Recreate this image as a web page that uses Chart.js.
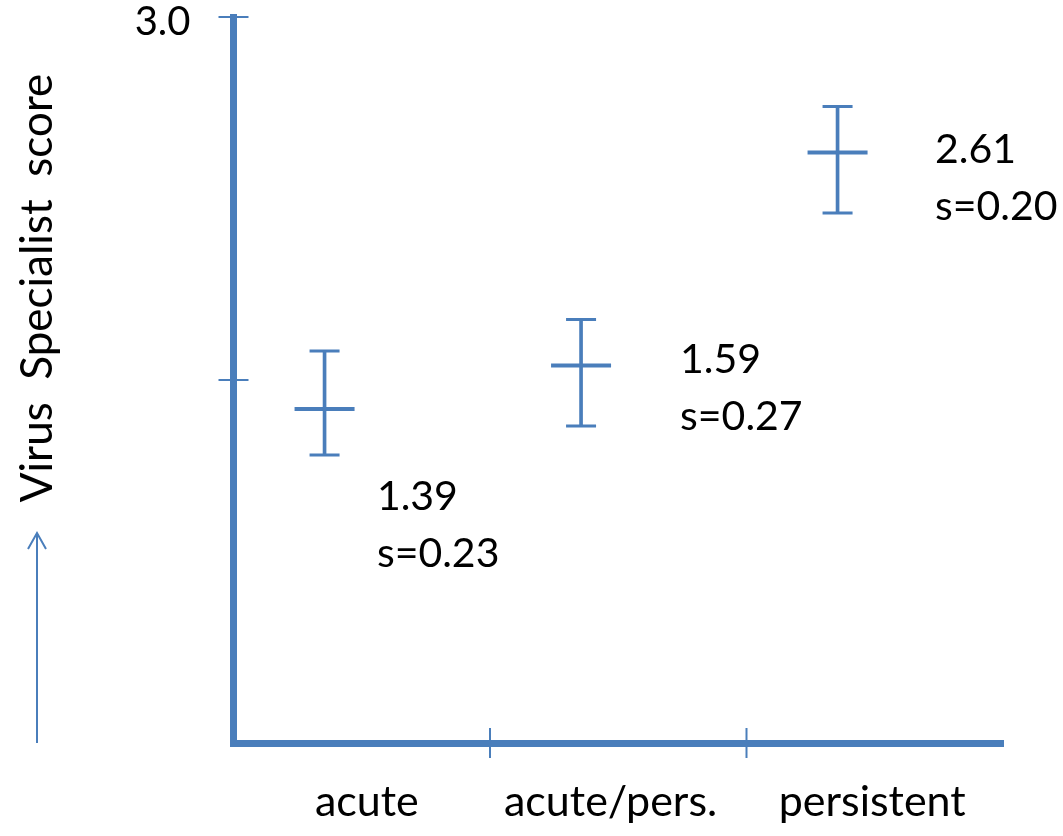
<!DOCTYPE html>
<html>
<head>
<meta charset="utf-8">
<script src="https://cdn.jsdelivr.net/npm/chart.js@4.4.1/dist/chart.umd.min.js"></script>
<style>
  html, body { margin: 0; padding: 0; background: #ffffff; }
  #wrap { width: 1063px; height: 836px; position: relative; }
</style>
</head>
<body>
<div id="wrap"><canvas id="c"></canvas></div>
<script>
// ---- data ----
const categories = ['acute', 'acute/pers.', 'persistent'];
const categoryTickPos = [0.52, 1.47, 2.49];
const pointX = [0.355, 1.355, 2.355];
const means = [1.38, 1.56, 2.44];
const lower = [1.19, 1.31, 2.19];
const upper = [1.62, 1.75, 2.63];
const noteValues = ['1.39', '1.59', '2.61'];
const noteSd = ['s=0.23', 's=0.27', 's=0.20'];
const noteX = [0.559, 1.741, 2.735];
const noteY = [0.963, 1.529, 2.397];
const yTicks = [1.5, 3.0];
const yTickLabels = ['', '3.0'];
const xTickMarks = [1, 2];
const yTitle = 'Virus  Specialist  score';

const BLUE = '#4a7ebb';
Chart.defaults.font.family = 'Lato';

const overlay = {
  id: 'overlay',
  afterDraw(chart) {
    const ctx = chart.ctx;
    const xs = chart.scales.x, ys = chart.scales.y;
    ctx.save();
    // annotations
    ctx.fillStyle = '#000';
    ctx.font = '41px Lato';
    ctx.textAlign = 'left';
    ctx.textBaseline = 'alphabetic';
    for (let i = 0; i < noteValues.length; i++) {
      const px = xs.getPixelForValue(noteX[i]);
      const py = ys.getPixelForValue(noteY[i]);
      ctx.fillText(noteValues[i], px, py);
      ctx.fillText(noteSd[i], px, py + 57);
    }
    // y title
    ctx.save();
    ctx.translate(52, 288);
    ctx.rotate(-Math.PI / 2);
    ctx.textAlign = 'center';
    ctx.font = '44px Lato';
    ctx.fillText(yTitle, 0, 0);
    ctx.restore();
    // arrow
    ctx.strokeStyle = BLUE;
    ctx.lineWidth = 2;
    ctx.beginPath();
    ctx.moveTo(37, 743);
    ctx.lineTo(37, 533);
    ctx.moveTo(28, 549);
    ctx.lineTo(37, 533);
    ctx.lineTo(46, 549);
    ctx.stroke();
    ctx.restore();
  }
};

new Chart(document.getElementById('c'), {
  type: 'bar',
  data: {
    datasets: [
      {
        type: 'bar',
        data: pointX.map((x, i) => ({ x: x, y: [lower[i], upper[i]] })),
        backgroundColor: BLUE,
        borderWidth: 0,
        barThickness: 3
      },
      {
        type: 'scatter',
        data: pointX.map((x, i) => ({ x: x, y: means[i] })),
        pointStyle: 'line',
        pointRadius: 30,
        borderWidth: 4,
        borderColor: BLUE
      },
      {
        type: 'scatter',
        data: pointX.map((x, i) => ({ x: x, y: lower[i] })).concat(pointX.map((x, i) => ({ x: x, y: upper[i] }))),
        pointStyle: 'line',
        pointRadius: 15,
        borderWidth: 3,
        borderColor: BLUE
      },
      {
        type: 'scatter',
        data: yTicks.map(v => ({ x: 0, y: v })),
        pointStyle: 'line',
        pointRadius: 15,
        borderWidth: 2,
        borderColor: BLUE,
        clip: false
      },
      {
        type: 'scatter',
        data: xTickMarks.map(v => ({ x: v, y: 0 })),
        pointStyle: 'line',
        rotation: 90,
        pointRadius: 15,
        borderWidth: 2,
        borderColor: BLUE,
        clip: false
      }
    ]
  },
  options: {
    responsive: true,
    maintainAspectRatio: false,
    animation: false,
    events: [],
    layout: { autoPadding: false, padding: { left: 0, right: 60, top: 17, bottom: 0 } },
    plugins: { legend: { display: false }, tooltip: { enabled: false } },
    scales: {
      x: {
        type: 'linear',
        min: 0, max: 3,
        offset: false,
        grid: { display: false, drawTicks: false, offset: false },
        border: { display: true, color: BLUE, width: 7 },
        afterBuildTicks: s => { s.ticks = categoryTickPos.map(v => ({ value: v })); },
        afterFit: s => { s.height = 93; s.paddingLeft = 0; s.paddingRight = 0; },
        ticks: {
          autoSkip: false, maxRotation: 0, padding: 33,
          color: '#000', font: { size: 43 },
          callback: (v, i) => categories[i]
        }
      },
      y: {
        type: 'linear',
        min: 0, max: 3,
        grid: { display: false, drawTicks: false },
        border: { display: true, color: BLUE, width: 7 },
        afterBuildTicks: s => { s.ticks = yTicks.map(v => ({ value: v })); },
        afterFit: s => { s.width = 233.5; s.paddingTop = 0; s.paddingBottom = 0; },
        ticks: {
          padding: 43,
          labelOffset: 5,
          color: '#000', font: { size: 40 },
          callback: (v, i) => yTickLabels[i]
        }
      }
    }
  },
  plugins: [overlay]
});
</script>
</body>
</html>
